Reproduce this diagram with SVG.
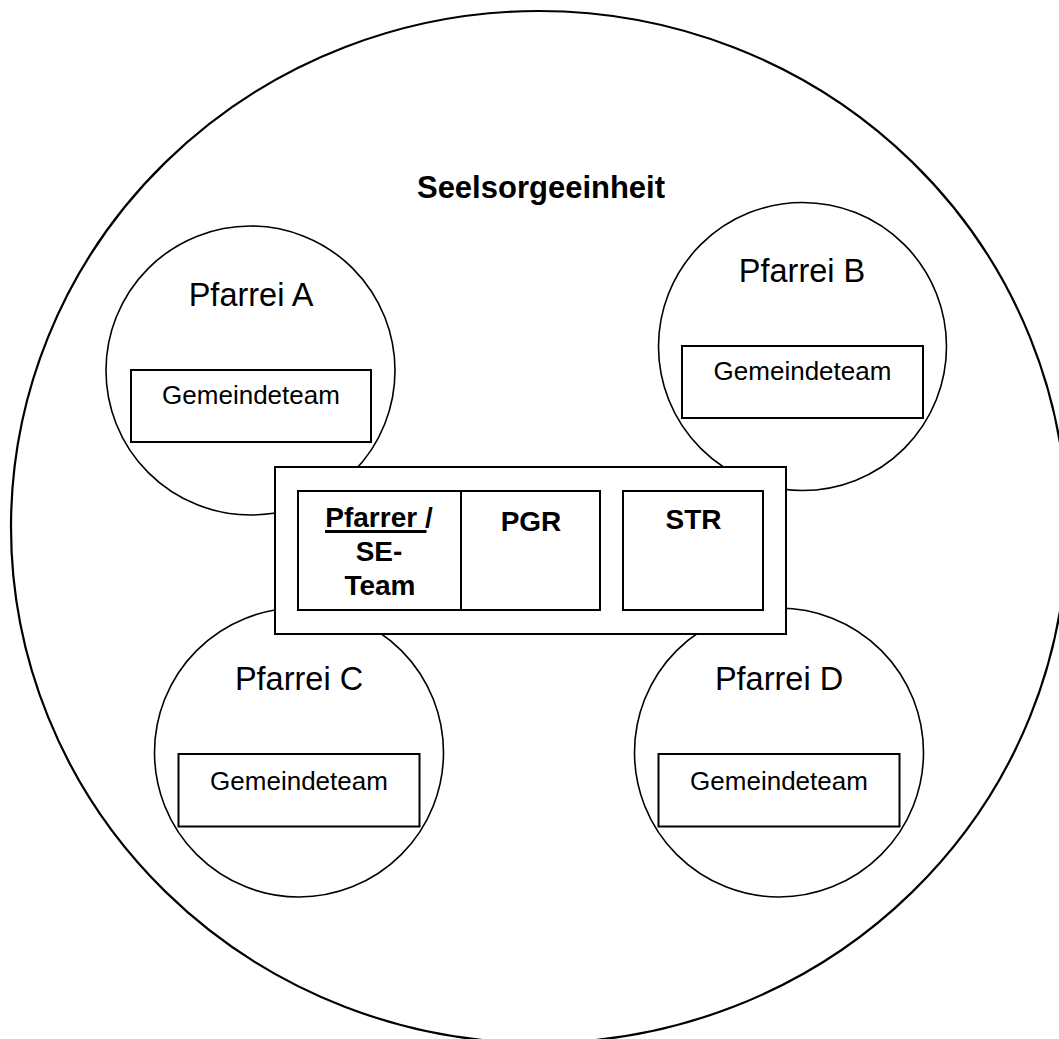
<svg xmlns="http://www.w3.org/2000/svg" width="1059" height="1039" viewBox="0 0 1059 1039">
  <style>
    .outline { fill: none; stroke: #000; stroke-width: 2.2; }
    .parish { fill: none; stroke: #000; stroke-width: 1.6; }
    .box { fill: #fff; stroke: #000; stroke-width: 2; }
    .title { font-family: "Liberation Sans", Arial, sans-serif; font-size: 31px; font-weight: bold; text-anchor: middle; fill: #000; }
    .pname { font-family: "Liberation Sans", Arial, sans-serif; font-size: 32.5px; text-anchor: middle; fill: #000; }
    .team { font-family: "Liberation Sans", Arial, sans-serif; font-size: 26px; text-anchor: middle; fill: #000; }
    .bold { font-family: "Liberation Sans", Arial, sans-serif; font-size: 28px; font-weight: bold; text-anchor: middle; fill: #000; }
  </style>
  <rect width="1059" height="1039" fill="#fff"/>

  <!-- pastoral unit -->
  <g id="seelsorgeeinheit">
    <ellipse class="outline" cx="539" cy="527" rx="528" ry="516"/>
    <text class="title" x="541" y="198">Seelsorgeeinheit</text>
  </g>

  <!-- parishes -->
  <g id="pfarrei-a">
    <circle class="parish" cx="250.5" cy="370.5" r="144.5"/>
    <text class="pname" x="251" y="306">Pfarrei A</text>
    <rect class="box" x="131" y="370" width="240" height="72"/>
    <text class="team" x="251" y="404">Gemeindeteam</text>
  </g>

  <g id="pfarrei-b">
    <circle class="parish" cx="802.5" cy="346.5" r="144"/>
    <text class="pname" x="802" y="282">Pfarrei B</text>
    <rect class="box" x="682" y="346" width="241" height="72"/>
    <text class="team" x="802.5" y="380">Gemeindeteam</text>
  </g>

  <g id="pfarrei-c">
    <circle class="parish" cx="299" cy="752.5" r="144.5"/>
    <text class="pname" x="299" y="689.5">Pfarrei C</text>
    <rect class="box" x="178.5" y="754" width="241" height="72.5"/>
    <text class="team" x="299" y="789.5">Gemeindeteam</text>
  </g>

  <g id="pfarrei-d">
    <circle class="parish" cx="779" cy="752.5" r="144.5"/>
    <text class="pname" x="779" y="689.5">Pfarrei D</text>
    <rect class="box" x="658.5" y="754" width="241" height="72.5"/>
    <text class="team" x="779" y="789.5">Gemeindeteam</text>
  </g>

  <!-- central leadership block -->
  <g id="leitung">
    <rect class="box" x="275" y="467" width="511" height="167" stroke-width="2.4"/>
  </g>

  <g id="pfarrer-se-team">
    <rect class="box" x="298" y="491" width="163" height="119"/>
    <text class="bold" x="379" y="527">Pfarrer /</text>
    <line x1="325" y1="531.5" x2="426.5" y2="531.5" stroke="#000" stroke-width="3"/>
    <text class="bold" x="379" y="561">SE-</text>
    <text class="bold" x="380" y="595">Team</text>
  </g>

  <g id="pgr">
    <rect class="box" x="461" y="491" width="139" height="119"/>
    <text class="bold" x="531" y="531" font-size="30">PGR</text>
  </g>

  <g id="str">
    <rect class="box" x="623" y="491" width="140" height="119"/>
    <text class="bold" x="693.5" y="528.5">STR</text>
  </g>

  <g id="connectors"/>
</svg>
